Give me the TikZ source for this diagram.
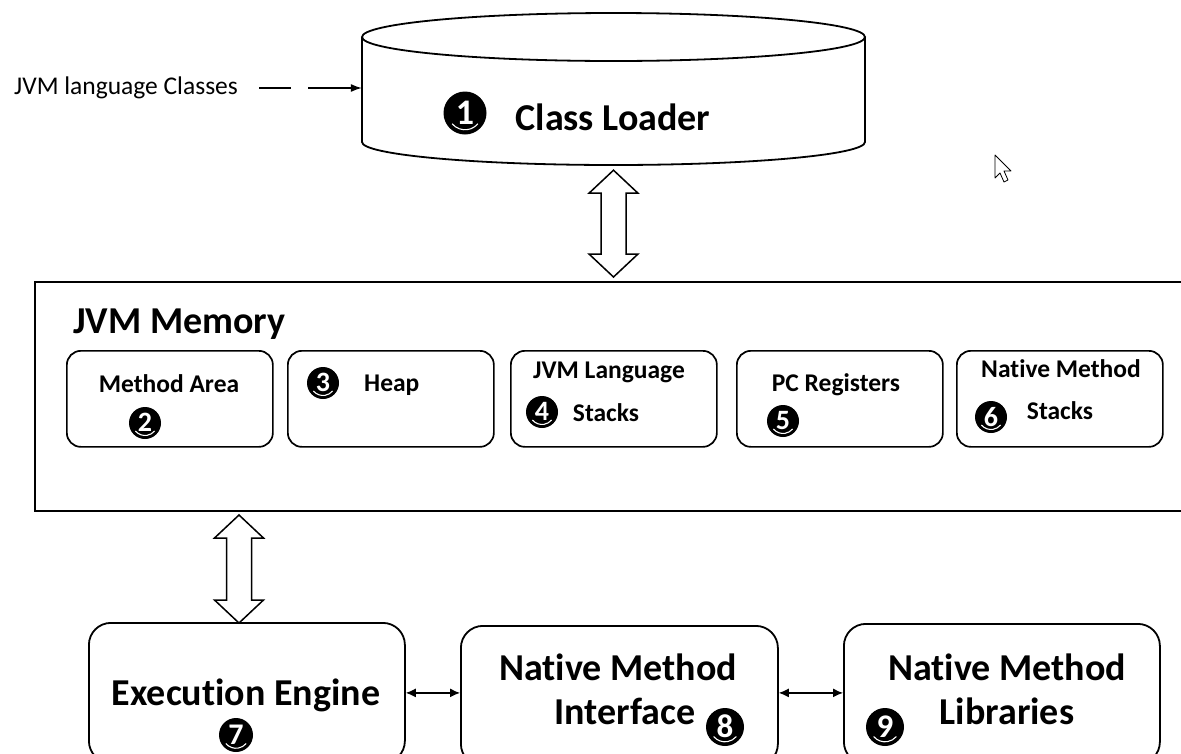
\documentclass[tikz,border=0pt]{standalone}
\usepackage{fontspec}
\setmainfont{Carlito}[Ligatures=NoCommon]
\usetikzlibrary{arrows.meta,calc}
\newcommand\fsz[1]{\fontsize{#1}{#1}\selectfont}
\newcommand\numcirc[5]{% name, position, digit, diameter, font size
  \node[numc, minimum size=#4pt, font=\bfseries\fsz{#5}] (#1) at (#2) {\raisebox{1pt}{#3}};
  \draw[white, line width=1.1pt] ($(#1.center)+(140:#4*0.39)$) arc[start angle=140, end angle=40, radius=#4*0.39];
}
\begin{document}
\begin{tikzpicture}[x=1pt,y=-1pt,
  line/.style={line width=1.8pt},
  membox/.style={draw, line width=2pt, anchor=north west, inner sep=0},
  ibox/.style={draw, line width=1.7pt, rounded corners=14pt, minimum width=206pt, minimum height=96pt, anchor=north west, inner sep=0},
  bbox/.style={draw, line width=1.8pt, rounded corners=22pt, minimum width=316pt, minimum height=140pt, anchor=north west, inner sep=0},
  big/.style={font=\bfseries\fsz{38}, inner sep=0, anchor=base},
  mid/.style={font=\bfseries\fsz{25.5}, inner sep=0, anchor=base},
  numc/.style={circle, fill=black, inner sep=0, text=white},
  smallarr/.style={line width=1.2pt, {Latex[length=10pt,width=9pt]}-{Latex[length=10pt,width=9pt]}},
  blk/.style={line width=1.5pt, to path={
    let \p1=(\tikztostart), \p2=(\tikztotarget) in
    (\x1-12.5pt,\y1-23pt) -- (\x1-24.5pt,\y1-23pt) -- (\x1,\y1) -- (\x1+24.5pt,\y1-23pt) -- (\x1+12.5pt,\y1-23pt)
    -- (\x2+12.5pt,\y2+23pt) -- (\x2+24.5pt,\y2+23pt) -- (\x2,\y2) -- (\x2-24.5pt,\y2+23pt) -- (\x2-12.5pt,\y2+23pt) -- cycle}}
]
\useasboundingbox (0,0) rectangle (1181,753);
\clip (0,0) rectangle (1181,753);
\fill[white] (0,0) rectangle (1181,753);

% Class loader cylinder
\node[inner sep=0, minimum width=503pt, minimum height=152pt] (cl) at (613.5,89) {};
\draw[line] (362,37) -- (362,142) arc[start angle=180, end angle=0, x radius=251.5, y radius=23] -- (865,37);
\draw[line] (613.5,37) ellipse [x radius=251.5, y radius=24];
\node[big] (cltx) at (613,130) {Class Loader};
\numcirc{n1}{465,113}{1}{43}{36}

% input
\node[font=\fsz{25.5}, anchor=west, inner sep=0] (in) at (14,88) {JVM language Classes};
\draw[line width=1.2pt, dash pattern=on 32pt off 17pt on 300pt off 0pt, -{Latex[length=11pt,width=8pt]}]
  ([xshift=21pt]in.east) -- (in.east -| cl.west);

% JVM memory
\node[membox, minimum width=1250pt, minimum height=229pt] (mem) at (34,281) {};
\node[font=\bfseries\fsz{38}, anchor=base west, inner sep=0] (memtx) at (73,333) {JVM Memory};

\node[ibox] (ma) at (66,350) {};
\node[ibox] (hp) at (287,350) {};
\node[ibox] (jls) at (510,350) {};
\node[ibox] (pc) at (736,350) {};
\node[ibox] (nms) at (956,350) {};

\node[mid] (matx) at (169,392) {Method Area};
\numcirc{n2}{145,423}{2}{32}{28}
\numcirc{n3}{323,383}{3}{32}{28}
\node[mid, anchor=base west] (hptx) at (364,391) {Heap};
\node[mid] (jlstx) at (609,378) {JVM Language};
\node[mid] (jlstx2) at (606,421) {Stacks};
\numcirc{n4}{542,412}{4}{32}{28}
\node[mid] (pctx) at (836,391) {PC Registers};
\numcirc{n5}{783,421}{5}{32}{28}
\node[mid] (nmstx) at (1061,377) {Native Method};
\node[mid] (nmstx2) at (1060,419) {Stacks};
\numcirc{n6}{991,417}{6}{32}{28}

% bottom boxes
\node[bbox] (exec) at (88,622) {};
\node[bbox, minimum width=317pt] (iface) at (460,625) {};
\node[bbox] (lib) at (843,623) {};

\node[big] (extx) at (246,705) {Execution Engine};
\numcirc{n7}{236,735}{7}{34}{30}
\node[big] (iftx) at (618,680) {Native Method};
\node[big] (iftx2) at (625,724) {Interface};
\numcirc{n8}{725,727}{8}{38}{33}
\node[big] (lbtx) at (1007,680) {Native Method};
\node[big] (lbtx2) at (1007,724) {Libraries};
\numcirc{n9}{885,727}{9}{38}{33}

% connectors
\coordinate (a1t) at ($(cl.south)+(0,5)$);
\coordinate (a1b) at ($(a1t |- mem.north)+(0,-4)$);
\draw[blk] (a1t) to (a1b);
\coordinate (a2t) at ($(mem.south west)+(205,3)$);
\coordinate (a2b) at ($(a2t |- exec.north)+(0,1)$);
\draw[blk] (a2t) to (a2b);
\draw[smallarr] (exec.east) -- (exec.east -| iface.west);
\draw[smallarr] ($(iface.east)+(0,-3)$) -- ($(iface.east -| lib.west)+(0,-3)$);

% mouse cursor
\draw[line width=0.8pt, fill=white, line join=round] (995,155) -- (995,178) -- (1000,173) -- (1004,182) -- (1008,180) -- (1004,171) -- (1011,171) -- cycle;
\end{tikzpicture}
\end{document}
